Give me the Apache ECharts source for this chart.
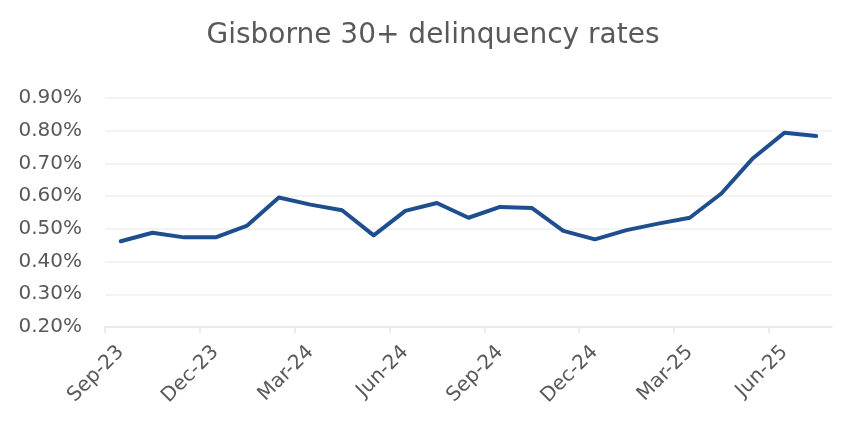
<!DOCTYPE html>
<html>
<head>
<meta charset="utf-8">
<script src="https://cdn.jsdelivr.net/npm/echarts@6/dist/echarts.min.js"></script>
<style>
html,body{margin:0;padding:0;background:#fff;}
#chart{width:866px;height:432px;}
</style>
</head>
<body>
<div id="chart"></div>
<script>
const categories = ['Sep-23','Oct-23','Nov-23','Dec-23','Jan-24','Feb-24','Mar-24','Apr-24','May-24','Jun-24','Jul-24','Aug-24','Sep-24','Oct-24','Nov-24','Dec-24','Jan-25','Feb-25','Mar-25','Apr-25','May-25','Jun-25','Jul-25'];
const rates = [0.462,0.488,0.474,0.474,0.510,0.596,0.574,0.557,0.480,0.555,0.579,0.534,0.567,0.564,0.494,0.468,0.496,0.516,0.534,0.608,0.716,0.794,0.784];
const yTicks = {min:0.2, max:0.9, interval:0.1};
// month boundaries (one more than categories) used only for tick marks
const boundaries = categories.concat(['Aug-25']);

const chart = echarts.init(document.getElementById('chart'));
const font = 'DejaVu Sans';
chart.setOption({
  animation:false,
  title:{
    text:'Gisborne 30+ delinquency rates',
    left:'center', top:17,
    textStyle:{fontFamily:font, fontSize:28, fontWeight:'normal', color:'#595959'}
  },
  grid:{left:105, right:34, top:98, bottom:105, containLabel:false},
  xAxis:[{
    type:'category',
    position:'bottom',
    data:categories,
    boundaryGap:true,
    axisLine:{lineStyle:{color:'#e6e6e6', width:1.5}},
    axisTick:{show:false},
    axisLabel:{interval:2, rotate:45, margin:22, fontFamily:font, fontSize:20, color:'#595959'}
  },{
    type:'category',
    position:'bottom',
    data:boundaries,
    boundaryGap:false,
    axisLine:{show:false},
    axisTick:{show:true, interval:2, length:6, lineStyle:{color:'#e6e6e6', width:1.5}},
    axisLabel:{show:false, interval:2, showMaxLabel:false}
  }],
  yAxis:{
    type:'value',
    min:yTicks.min, max:yTicks.max, interval:yTicks.interval,
    axisLine:{show:false}, axisTick:{show:false},
    splitLine:{lineStyle:{color:'#efefef', width:1.5}},
    axisLabel:{margin:23, fontFamily:font, fontSize:20, color:'#595959',
      formatter:v=>v.toFixed(2)+'%'}
  },
  series:[{
    type:'line',
    xAxisIndex:0,
    data:rates,
    symbol:'none',
    lineStyle:{color:'#1f4e8f', width:4, cap:'round', join:'round'}
  }]
});
</script>
</body>
</html>
